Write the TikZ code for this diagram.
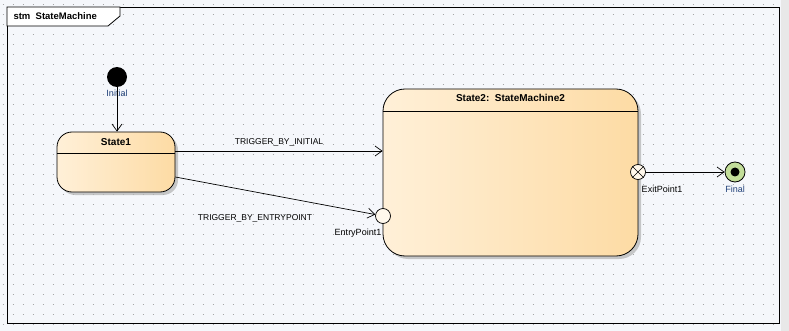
\documentclass[tikz,border=0pt]{standalone}
\usepackage{fontspec}
\setmainfont{Liberation Sans}
\usetikzlibrary{arrows.meta,shadows}
\definecolor{canvas}{HTML}{F5F7FB}
\definecolor{stateL}{HTML}{FFF0D8}
\definecolor{stateR}{HTML}{FDDBA4}
\definecolor{pinfill}{HTML}{FFF8EC}
\definecolor{finalG}{HTML}{C3DE9A}
\definecolor{labelB}{HTML}{22427A}

\begin{document}
\begin{tikzpicture}[x=1pt,y=-1pt,
  font=\fontsize{9}{10}\selectfont,
  griddot/.style={black!35,line width=.8pt,dash pattern=on .8pt off 9.2pt},
  statebox/.style={draw,line width=.8pt,left color=stateL,right color=stateR,
    drop shadow={shadow xshift=3pt,shadow yshift=-3pt,fill=black!30,opacity=.7}},
  statetitle/.style={font=\fontsize{10}{11}\selectfont\bfseries},
  trans/.style={-{Straight Barb[length=7pt,width=10pt]},line width=.7pt},
  trig/.style={font=\fontsize{8.5}{9}\selectfont},
  pinpt/.style={circle,draw,line width=.7pt,fill=pinfill,minimum size=15pt,inner sep=0pt}]
  % canvas with dotted grid
  \fill[canvas] (0,0) rectangle (789,331);
  \fill[black!9] (781,0) rectangle (789,331);
  \foreach \y in {4,14,...,324}
    \draw[griddot] (2.6,\y) -- (781,\y);
  % diagram frame
  \draw[line width=.9pt] (7,7) rectangle (779,323);
  \filldraw[fill=white,line width=.8pt] (7,7) -- (120,7) -- (120,16) -- (108,26) -- (7,26) -- cycle;
  \node[anchor=west,font=\fontsize{9.5}{10}\selectfont\bfseries] (frametitle) at (10,16.5) {stm\ \ StateMachine};

  % states
  \node[statebox,rounded corners=15pt,minimum width=118pt,minimum height=60pt] (s1) at (116,162) {};
  \node[statetitle] (s1title) at (116,142) {State1};
  \draw[line width=.7pt] (s1.west |- 0,153) -- (s1.east |- 0,153);
  \node[statebox,rounded corners=22pt,minimum width=255pt,minimum height=167pt] (s2) at (510.5,172.5) {};
  \node[statetitle] (s2title) at (510.5,98) {State2:\ \ StateMachine2};
  \draw[line width=.7pt] (s2.west |- 0,111) -- (s2.east |- 0,111);

  % pseudostates
  \node[circle,fill=black,minimum size=20pt,inner sep=0pt] (init) at (117,77) {};
  \node[labelB] (initlbl) at (117,93) {Initial};
  \node[pinpt] (entry) at (383,216) {};
  \node (entrylbl) at (358,233) {EntryPoint1};
  \node[pinpt] (exit) at (638,172) {};
  \draw[line width=.6pt] (exit.north east) -- (exit.south west) (exit.north west) -- (exit.south east);
  \node (exitlbl) at (662,189) {ExitPoint1};
  \node[circle,draw,line width=.8pt,fill=finalG,minimum size=20pt,inner sep=0pt] (final) at (735,172) {};
  \node[circle,fill=black,minimum size=9pt,inner sep=0pt] (finaldot) at (final) {};
  \node[labelB] (finallbl) at (735,189) {Final};

  % transitions
  \draw[trans] (init.south) -- (init.south |- s1.north);
  \draw[trans] (s1.east |- 0,151) -- (s2.west |- 0,151)
    node[trig,midway,above=1pt] (trig1) {TRIGGER\_BY\_INITIAL};
  \draw[trans] (s1.east |- 0,177) -- (entry);
  \node[trig] (trig2) at (255,218) {TRIGGER\_BY\_ENTRYPOINT};
  \draw[trans] (exit) -- (final);
\end{tikzpicture}
\end{document}
